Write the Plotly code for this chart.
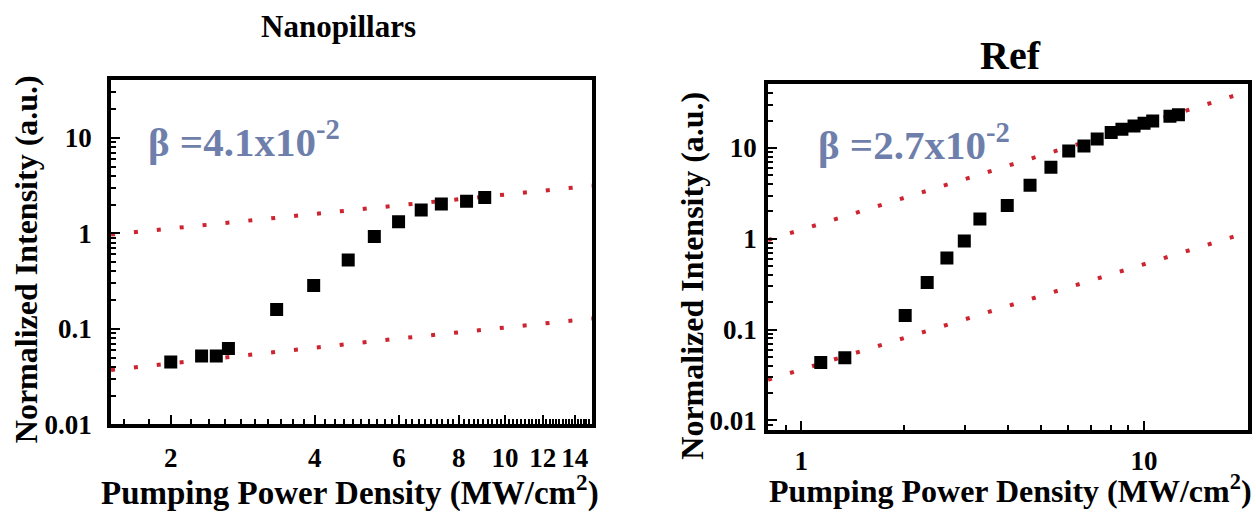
import numpy as np
import plotly.graph_objects as go

# ---------------- data ----------------
# Nanopillars
np_x = [2.0, 2.32, 2.49, 2.64, 3.33, 3.98, 4.70, 5.33, 5.99, 6.68, 7.36, 8.31, 9.07]
np_y = [0.045, 0.052, 0.052, 0.062, 0.159, 0.284, 0.525, 0.925, 1.32, 1.75, 2.03, 2.16, 2.37]
np_fit_hi_x = [1.5, 6.0, 15.2]
np_fit_hi_y = [0.97, 1.95, 3.15]
np_fit_lo_x = [1.5, 6.0, 15.2]
np_fit_lo_y = [0.037, 0.079, 0.128]

# Ref
ref_x = [1.14, 1.34, 2.01, 2.33, 2.66, 2.99, 3.32, 3.99, 4.65, 5.35, 6.03, 6.68,
         7.30, 8.02, 8.62, 9.35, 10.0, 10.6, 11.9, 12.6]
ref_y = [0.0433, 0.0489, 0.143, 0.33, 0.615, 0.944, 1.65, 2.33, 3.88, 6.15, 9.29, 10.5,
         12.6, 14.8, 16.1, 17.5, 18.7, 19.8, 22.4, 23.3]
ref_fit_hi_x = [0.8, 4.18, 20.1]
ref_fit_hi_y = [0.97, 6.63, 42.0]
ref_fit_lo_x = [0.8, 4.18, 20.1]
ref_fit_lo_y = [0.028, 0.19, 1.18]

np_xticks = [2, 4, 6, 8, 10, 12, 14]
ref_xticks = [1, 10]
yticks = [0.01, 0.1, 1, 10]
yticktext = ["0.01", "0.1", "1", "10"]
beta_np = "β =4.1x10<sup>-2</sup>"
beta_ref = "β =2.7x10<sup>-2</sup>"
title_np = "Nanopillars"
title_ref = "Ref"
xtitle = "Pumping Power Density (MW/cm<sup>2</sup>)"
ytitle = "Normalized Intensity (a.u.)"

# ---------------- style ----------------
FONT = "Liberation Serif"
RED = "#cc2430"
BLUE = "#6f7fab"
DOT = "4px,19px"

np_minor_x = [round(v, 1) for v in np.arange(1.6, 15.01, 0.2) if round(v, 1) not in np_xticks]
ref_minor_x = [0.8, 0.9, 2, 3, 4, 5, 6, 7, 8, 9]
minor_y = [m * 10.0 ** e for e in range(-3, 2) for m in range(2, 10)]

fig = go.Figure()

def add_panel(xs, ys, fhx, fhy, flx, fly, xa, ya):
    for fx, fy in ((fhx, fhy), (flx, fly)):
        fig.add_trace(go.Scatter(x=fx, y=fy, mode="lines", xaxis=xa, yaxis=ya,
                                 line=dict(color=RED, width=4, dash=DOT),
                                 showlegend=False, hoverinfo="skip"))
    fig.add_trace(go.Scatter(x=xs, y=ys, mode="markers", xaxis=xa, yaxis=ya,
                             marker=dict(symbol="square", size=13, color="black"),
                             showlegend=False))

add_panel(np_x, np_y, np_fit_hi_x, np_fit_hi_y, np_fit_lo_x, np_fit_lo_y, "x", "y")
add_panel(ref_x, ref_y, ref_fit_hi_x, ref_fit_hi_y, ref_fit_lo_x, ref_fit_lo_y, "x2", "y2")

axis_common = dict(type="log", showgrid=False, zeroline=False, showline=True,
                   linecolor="black", linewidth=4, mirror=True, ticks="inside",
                   tickcolor="black", tickwidth=2,
                   tickfont=dict(family=FONT, size=27, color="black", weight="bold"))

fig.update_layout(
    width=1256, height=514, margin=dict(l=0, r=0, t=0, b=0),
    paper_bgcolor="white", plot_bgcolor="white",
    font=dict(family=FONT, color="black"),
    xaxis=dict(axis_common, domain=[0.0884, 0.4713], anchor="y",
               range=[np.log10(1.5), np.log10(15.2)],
               tickmode="array", tickvals=np_xticks, ticktext=[str(t) for t in np_xticks],
               ticklen=9, ticklabelstandoff=6,
               minor=dict(tickmode="array", tickvals=np_minor_x, ticks="inside",
                          ticklen=5, tickwidth=2, tickcolor="black")),
    yaxis=dict(axis_common, domain=[0.1498, 0.8405], anchor="x",
               range=[-2, 1.61],
               tickmode="array", tickvals=yticks, ticktext=yticktext,
               ticklen=9, ticklabelstandoff=10,
               minor=dict(tickmode="array", tickvals=minor_y, ticks="inside",
                          ticklen=5, tickwidth=2, tickcolor="black")),
    xaxis2=dict(axis_common, domain=[0.6115, 0.9936], anchor="y2",
                range=[np.log10(0.8), np.log10(20.1)],
                tickmode="array", tickvals=ref_xticks, ticktext=[str(t) for t in ref_xticks],
                ticklen=9, ticklabelstandoff=4,
                minor=dict(tickmode="array", tickvals=ref_minor_x, ticks="inside",
                           ticklen=5, tickwidth=2, tickcolor="black")),
    yaxis2=dict(axis_common, domain=[0.1381, 0.8307], anchor="x2",
                range=[-2.107, 1.70],
                tickmode="array", tickvals=yticks, ticktext=yticktext,
                ticklen=9, ticklabelstandoff=2,
                minor=dict(tickmode="array", tickvals=minor_y, ticks="inside",
                           ticklen=5, tickwidth=2, tickcolor="black")),
)

def ann(text, x, y, size, color="black", angle=0, xanchor="center"):
    fig.add_annotation(text=text, x=x, y=y, xref="paper", yref="paper",
                       xanchor=xanchor, yanchor="middle", showarrow=False, textangle=angle,
                       font=dict(family=FONT, size=size, color=color, weight="bold"))

H, W = 514.0, 1256.0
ann(title_np, 338 / W, 1 - 27 / H, 31)
ann(title_ref, 1010 / W, 1 - 57 / H, 40)
ann(beta_np, 146 / W, 1 - 143 / H, 41, BLUE, xanchor="left")
ann(beta_ref, 816 / W, 1 - 146 / H, 41, BLUE, xanchor="left")
ann(xtitle, 350 / W, 1 - 505 / H, 33)
ann(xtitle, 1010 / W, 1 - 504 / H, 32)
ann(ytitle, 26 / W, 1 - 267 / H, 32, angle=-90)
ann(ytitle, 692 / W, 1 - 284 / H, 32, angle=-90)

fig.write_html("out.html")
